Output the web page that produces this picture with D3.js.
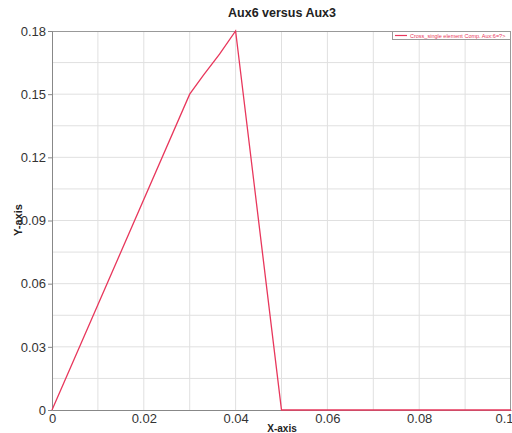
<!DOCTYPE html>
<html>
<head>
<meta charset="utf-8">
<script src="https://cdn.jsdelivr.net/npm/d3@7"></script>
<style>
  body { margin: 0; background: #fff; }
  svg { font-family: "Liberation Sans", Arial, sans-serif; }
</style>
</head>
<body>
<svg id="chart" width="512" height="433"></svg>
<script>
// Data
const xValues = [0, 0.03, 0.033, 0.0365, 0.04, 0.05, 0.1];
const yValues = [0, 0.15, 0.159, 0.169, 0.18, 0, 0];
const xTicks = [0, 0.02, 0.04, 0.06, 0.08, 0.1];
const yTicks = [0, 0.03, 0.06, 0.09, 0.12, 0.15, 0.18];
const seriesName = 'Cross_single element Comp. Aux:6=?>';

const svg = d3.select('#chart');
const margin = { left: 52, right: 1, top: 31, bottom: 23 };
const width = 512 - margin.left - margin.right;
const height = 433 - margin.top - margin.bottom;

const x = d3.scaleLinear().domain([0, 0.1]).range([0, width]);
const y = d3.scaleLinear().domain([0, 0.18]).range([height, 0]);

const g = svg.append('g').attr('transform', `translate(${margin.left},${margin.top})`);

// Grid (every 0.01 in x, 0.015 in y)
g.append('g')
    .selectAll('line')
    .data(d3.range(1, 10).map(i => i * 0.01))
    .enter().append('line')
    .attr('x1', d => x(d)).attr('x2', d => x(d))
    .attr('y1', 0).attr('y2', height)
    .attr('stroke', '#e0e0e0');

g.append('g')
    .selectAll('line')
    .data(d3.range(1, 12).map(i => i * 0.015))
    .enter().append('line')
    .attr('x1', 0).attr('x2', width)
    .attr('y1', d => y(d)).attr('y2', d => y(d))
    .attr('stroke', '#e0e0e0');

// Frame
g.append('line').attr('x1', 0).attr('x2', width).attr('y1', 0.5).attr('y2', 0.5).attr('stroke', '#999');
g.append('line').attr('x1', width - 0.5).attr('x2', width - 0.5).attr('y1', 0).attr('y2', height).attr('stroke', '#999');

// Axes
const xAxis = g.append('g')
    .attr('transform', `translate(0,${height})`)
    .call(d3.axisBottom(x).tickValues(xTicks).tickSize(0).tickPadding(4)
        .tickFormat(d => d === 0 ? '0' : d3.format('')(+d.toFixed(2))));
const yAxis = g.append('g')
    .call(d3.axisLeft(y).tickValues(yTicks).tickSize(4).tickPadding(2)
        .tickFormat(d => d === 0 ? '0' : d.toFixed(2)));

[xAxis, yAxis].forEach(a => {
    a.select('.domain').attr('stroke', '#888');
    a.selectAll('.tick line').attr('stroke', '#888');
    a.selectAll('text').attr('fill', '#333').style('font-size', '13px');
});
// last x label sits at the right edge; keep it inside the page
xAxis.selectAll('.tick text').filter(d => d === 0.1).attr('text-anchor', 'end').attr('dx', '2');

// Series line
const pts = xValues.map((v, i) => [v, yValues[i]]);
g.append('path')
    .datum(pts)
    .attr('fill', 'none')
    .attr('stroke', '#e8375c')
    .attr('stroke-width', 1.3)
    .attr('d', d3.line().x(d => x(d[0])).y(d => y(d[1])));

// Title and axis labels
svg.append('text')
    .attr('x', 282).attr('y', 17)
    .attr('text-anchor', 'middle')
    .style('font-size', '12.5px').style('font-weight', 'bold')
    .attr('fill', '#222')
    .text('Aux6 versus Aux3');

svg.append('text')
    .attr('x', 282).attr('y', 432)
    .attr('text-anchor', 'middle')
    .style('font-size', '10px').style('font-weight', 'bold')
    .attr('fill', '#222')
    .text('X-axis');

svg.append('text')
    .attr('transform', 'translate(22,220) rotate(-90)')
    .attr('text-anchor', 'middle')
    .style('font-size', '11px').style('font-weight', 'bold')
    .attr('fill', '#222')
    .text('Y-axis');

// Legend
const legend = svg.append('g').attr('transform', 'translate(392,31)');
legend.append('rect')
    .attr('x', 0.5).attr('y', 0.5).attr('width', 118).attr('height', 8)
    .attr('fill', '#fff').attr('stroke', '#999');
legend.append('line')
    .attr('x1', 3).attr('x2', 15).attr('y1', 4.5).attr('y2', 4.5)
    .attr('stroke', '#e8375c').attr('stroke-width', 1.2);
legend.append('text')
    .attr('x', 18).attr('y', 7)
    .style('font-size', '5.5px')
    .attr('fill', '#e8375c')
    .text(seriesName);
</script>
</body>
</html>
